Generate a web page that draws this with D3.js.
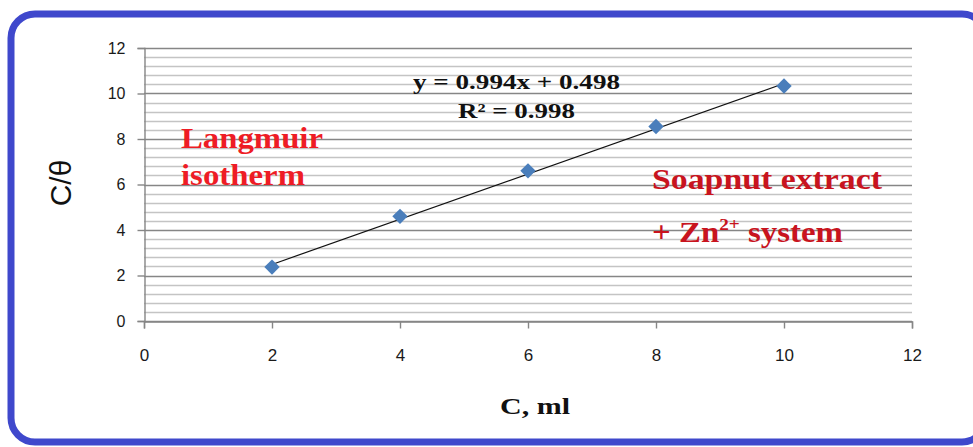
<!DOCTYPE html>
<html>
<head>
<meta charset="utf-8">
<script src="https://cdn.jsdelivr.net/npm/d3@7"></script>
<style>
  html, body { margin: 0; padding: 0; background: #fff; }
  svg { display: block; }
</style>
</head>
<body>
<svg id="chart" width="973" height="447"></svg>
<script>
// ---- data ----
const xValues = [2, 4, 6, 8, 10];
const yValues = [2.37, 4.6, 6.6, 8.55, 10.33];
const xTicks = [0, 2, 4, 6, 8, 10, 12];
const yTicks = [0, 2, 4, 6, 8, 10, 12];
const trendSlope = 0.994;
const trendIntercept = 0.498;
const equationText = "y = 0.994x + 0.498";
const r2Text = "R² = 0.998";
const xTitle = "C, ml";
const yTitle = "C/θ";
const noteLeft = ["Langmuir", "isotherm"];

// ---- layout ----
const svg = d3.select("#chart");

// frame
svg.append("rect")
  .attr("x", 11).attr("y", 14)
  .attr("width", 975).attr("height", 428)
  .attr("rx", 24).attr("ry", 24)
  .attr("fill", "#fff")
  .attr("stroke", "#3f48cc")
  .attr("stroke-width", 7);

const x = d3.scaleLinear().domain([0, 12]).range([144, 912]);
const y = d3.scaleLinear().domain([0, 12]).range([321, 48]);

// minor gridlines
const minor = d3.range(0, 12.0001, 0.4).filter(v => Math.abs(v / 2 - Math.round(v / 2)) > 1e-6);
svg.append("g").selectAll("line").data(minor).join("line")
  .attr("x1", x(0)).attr("x2", x(12))
  .attr("y1", d => Math.round(y(d)) + 0.5).attr("y2", d => Math.round(y(d)) + 0.5)
  .attr("stroke", "#c4c4c4").attr("stroke-width", 1.6);

// major gridlines
svg.append("g").selectAll("line").data(yTicks).join("line")
  .attr("x1", x(0)).attr("x2", x(12))
  .attr("y1", d => Math.round(y(d)) + 0.5).attr("y2", d => Math.round(y(d)) + 0.5)
  .attr("stroke", "#868686").attr("stroke-width", 1.4);

// y axis
const yAxis = d3.axisLeft(y).tickValues(yTicks).tickSize(7).tickPadding(12).tickFormat(d3.format("d"));
const gy = svg.append("g").attr("transform", `translate(${x(0) + 0.5},0)`).call(yAxis);
gy.select(".domain").attr("stroke", "#868686").attr("stroke-width", 1.4);
gy.selectAll(".tick line").attr("stroke", "#868686").attr("stroke-width", 1.4);
gy.selectAll(".tick text")
  .attr("font-family", "'Liberation Sans', Arial, sans-serif")
  .attr("font-size", 16).attr("fill", "#1a1a1a");

// x axis
const xAxis = d3.axisBottom(x).tickValues(xTicks).tickSize(7).tickPadding(20).tickFormat(d3.format("d"));
const gx = svg.append("g").attr("transform", `translate(0,${Math.round(y(0)) + 0.5})`).call(xAxis);
gx.select(".domain").attr("stroke", "#868686").attr("stroke-width", 1.4);
gx.selectAll(".tick line").attr("stroke", "#868686").attr("stroke-width", 1.4);
gx.selectAll(".tick text")
  .attr("font-family", "'Liberation Sans Narrow', 'Liberation Sans', Arial, sans-serif")
  .attr("font-size", 17).attr("fill", "#1a1a1a");

// trend line
const trendX = [d3.min(xValues), d3.max(xValues)];
svg.append("path")
  .datum(trendX)
  .attr("d", d3.line().x(d => x(d)).y(d => y(trendSlope * d + trendIntercept)))
  .attr("stroke", "#111").attr("stroke-width", 1.2).attr("fill", "none");

// points (diamonds)
const pts = xValues.map((v, i) => [v, yValues[i]]);
svg.append("g").selectAll("path").data(pts).join("path")
  .attr("transform", d => `translate(${x(d[0])},${y(d[1])}) rotate(45)`)
  .attr("d", d3.symbol(d3.symbolSquare, 118)())
  .attr("fill", "#4a7ebb");

// equation
const serif = "'Liberation Serif', 'Times New Roman', serif";
svg.append("text").text(equationText)
  .attr("x", 413).attr("y", 89)
  .attr("textLength", 207).attr("lengthAdjust", "spacingAndGlyphs")
  .attr("font-family", serif).attr("font-weight", "bold").attr("font-size", 22).attr("fill", "#111");
svg.append("text").text(r2Text)
  .attr("x", 458).attr("y", 118)
  .attr("textLength", 117).attr("lengthAdjust", "spacingAndGlyphs")
  .attr("font-family", serif).attr("font-weight", "bold").attr("font-size", 22).attr("fill", "#111");

// left annotation
svg.append("text").text(noteLeft[0])
  .attr("x", 181).attr("y", 148)
  .attr("textLength", 142).attr("lengthAdjust", "spacingAndGlyphs")
  .attr("font-family", serif).attr("font-weight", "bold").attr("font-size", 29).attr("fill", "#ee1c25");
svg.append("text").text(noteLeft[1])
  .attr("x", 181).attr("y", 185)
  .attr("textLength", 124).attr("lengthAdjust", "spacingAndGlyphs")
  .attr("font-family", serif).attr("font-weight", "bold").attr("font-size", 29).attr("fill", "#ee1c25");

// right annotation
svg.append("text").text("Soapnut extract")
  .attr("x", 652).attr("y", 189)
  .attr("textLength", 230).attr("lengthAdjust", "spacingAndGlyphs")
  .attr("font-family", serif).attr("font-weight", "bold").attr("font-size", 29).attr("fill", "#c8141e");
const t2 = svg.append("text")
  .attr("x", 652).attr("y", 242)
  .attr("textLength", 191).attr("lengthAdjust", "spacingAndGlyphs")
  .attr("font-family", serif).attr("font-weight", "bold").attr("font-size", 29).attr("fill", "#c8141e");
t2.append("tspan").text("+ Zn");
t2.append("tspan").text("2+").attr("font-size", 17).attr("dy", -12);
t2.append("tspan").text(" system").attr("dy", 12);

// axis titles
svg.append("text").text(xTitle)
  .attr("x", 535).attr("y", 414).attr("text-anchor", "middle")
  .attr("textLength", 70).attr("lengthAdjust", "spacingAndGlyphs")
  .attr("font-family", serif).attr("font-weight", "bold").attr("font-size", 24).attr("fill", "#111");
svg.append("text").text(yTitle)
  .attr("transform", "translate(71,183) rotate(-90)").attr("text-anchor", "middle")
  .attr("font-family", "'Liberation Sans', Arial, sans-serif").attr("font-size", 30).attr("fill", "#111");
</script>
</body>
</html>
